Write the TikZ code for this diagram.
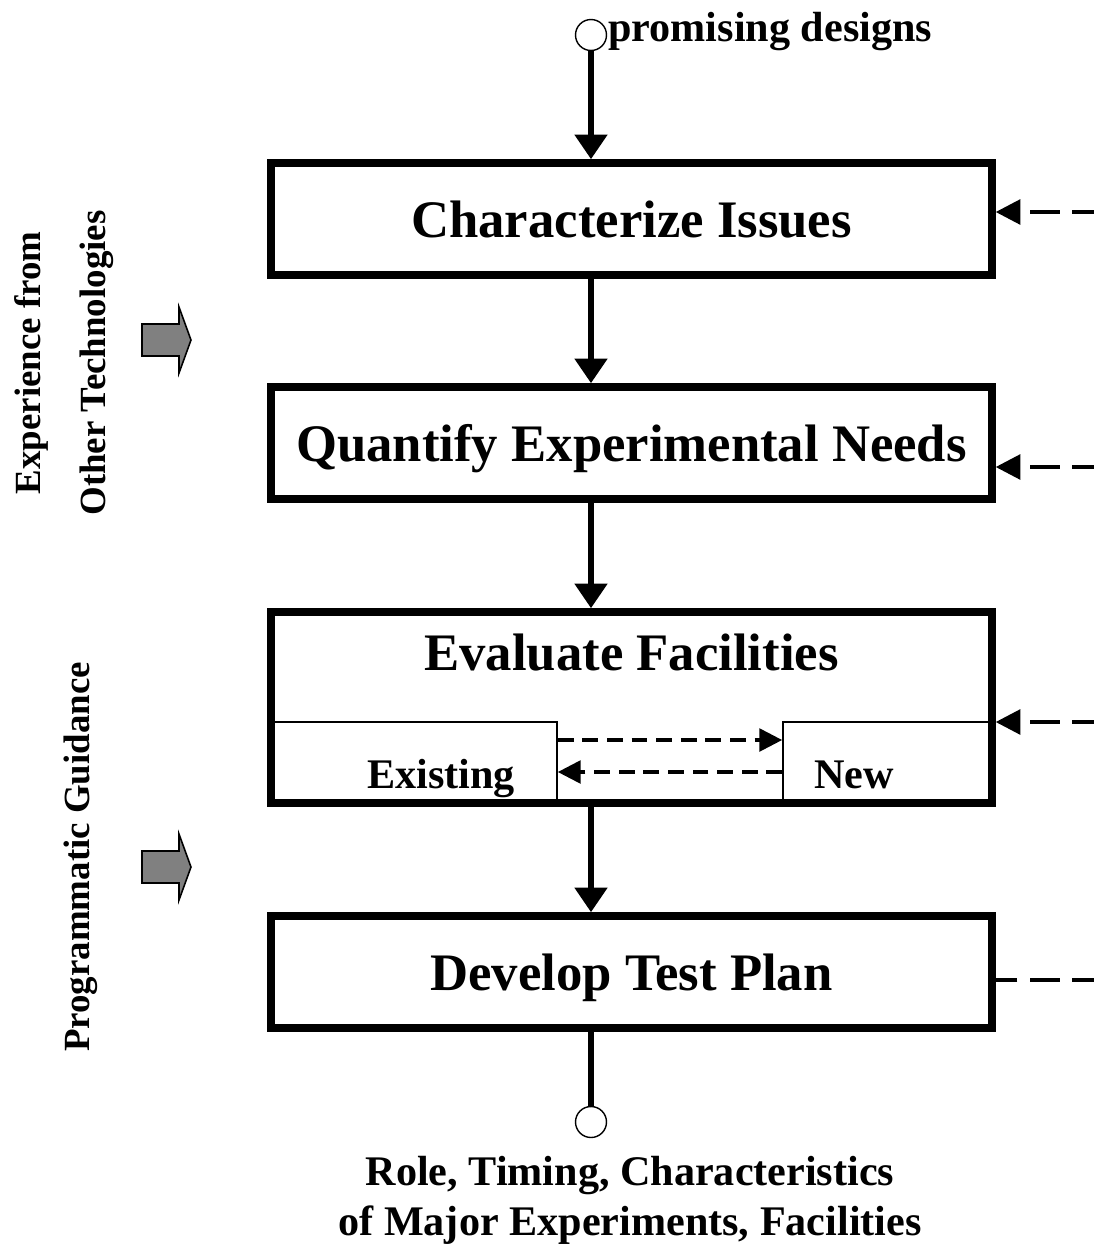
\documentclass[tikz,border=0pt]{standalone}
\usepackage{fontspec}
\setmainfont{Liberation Serif}
\usetikzlibrary{arrows.meta}

\begin{document}
\begin{tikzpicture}[x=0.02cm, y=-0.02cm,
    proc/.style   = {draw, line width=4.3pt, minimum width=14.42cm, minimum height=2.24cm,
                     inner sep=0pt, text depth=0pt, font=\fontsize{30}{36}\selectfont\bfseries},
    bigtxt/.style = {inner sep=0pt, text depth=0pt, font=\fontsize{30}{36}\selectfont\bfseries},
    smalltxt/.style = {inner sep=0pt, font=\fontsize{24}{28.4}\selectfont\bfseries},
    sidetxt/.style  = {inner sep=0pt, rotate=90, align=center, font=\fontsize{21}{37}\selectfont\bfseries},
    port/.style   = {draw, circle, line width=0.8pt, minimum size=0.62cm, inner sep=0pt, fill=white},
    inbox/.style  = {draw, line width=1pt, inner sep=0pt},
    flow/.style   = {line width=3.4pt, -{Triangle[length=14pt, width=18pt]}},
    fb/.style     = {line width=2.2pt, dash pattern=on 17pt off 7.1pt, -{Triangle[length=14pt, width=14pt]}},
    fbline/.style = {line width=2.2pt, dash pattern=on 17pt off 7.1pt},
    inflow/.style = {line width=1.8pt, dash pattern=on 9pt off 5pt, -{Triangle[length=13pt, width=13pt]}},
    fat/.style    = {draw, fill=gray, line width=0.9pt, line join=miter}]
  \useasboundingbox (0,0) rectangle (1093,1248);

  % the four steps
  \node[proc] (issues) at (631.5,219) {Characterize Issues};
  \node[proc] (needs)  at (631.5,443) {Quantify Experimental Needs};
  \node[proc, minimum height=3.82cm] (facil) at (631.5,707.5) {};
  \node[proc] (plan)   at (631.5,972) {Develop Test Plan};
  \node[bigtxt] (facilt) at (631.5,652) {Evaluate Facilities};

  % existing / new facilities
  \node[inbox, minimum width=5.72cm, minimum height=1.6cm] (exist) at (414,762) {};
  \node[inbox, minimum width=4.18cm, minimum height=1.6cm] (new)   at (887.5,762) {};
  \node[smalltxt, anchor=base] (existt) at (441,788) {Existing};
  \node[smalltxt, anchor=base] (newt)   at (854,788) {New};
  \draw[inflow] ([yshift=0.44cm]exist.east) -- ([yshift=0.44cm]new.west);
  \draw[inflow] ([yshift=-0.2cm]new.west) -- ([yshift=-0.2cm]exist.east);

  % input and output
  \node[port] (src)  at (591,35) {};
  \node[smalltxt, anchor=base west] (srct) at (608,41) {promising designs};
  \node[port] (sink) at (591,1122) {};
  \node[smalltxt, align=center] (sinkt) at (630,1200) {Role, Timing, Characteristics\\of Major Experiments, Facilities};

  \draw[flow] (src.south) -- (issues.north -| src);
  \foreach \a/\b in {issues/needs, needs/facil, facil/plan}
    \draw[flow] (\a.south -| src) -- (\b.north -| src);
  \draw[line width=3.4pt] (plan.south -| src) -- (sink.north);

  % feedback from the right
  \foreach \n/\y in {issues/212, needs/467, facil/722} {
    \coordinate (r\n) at (1102,\y);
    \draw[fb] (r\n) -- (\n.east |- r\n);
  }
  \coordinate (rplan) at (1102,980);
  \draw[fbline] (rplan) -- (plan.east |- rplan);

  % side inputs
  \node[sidetxt] (exper) at (64,363) {Experience from\\Other Technologies};
  \node[sidetxt] (guide) at (81,857) {Programmatic Guidance};
  \foreach \y in {340, 867}
    \draw[fat] (142,\y-16) -- (179,\y-16) -- (179,\y-33) -- (191,\y)
               -- (179,\y+33) -- (179,\y+16) -- (142,\y+16) -- cycle;
\end{tikzpicture}
\end{document}
